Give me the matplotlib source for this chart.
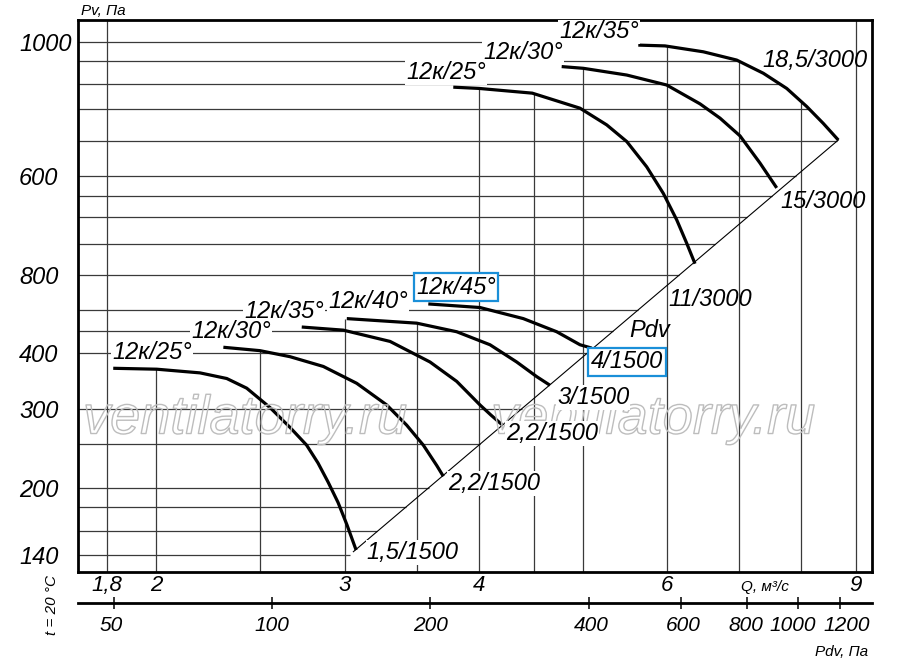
import matplotlib
matplotlib.use('Agg')
import matplotlib.pyplot as plt
import matplotlib.patheffects as pe
from matplotlib.patches import Rectangle
from matplotlib.transforms import IdentityTransform
from matplotlib.ticker import NullLocator
import numpy as np

plt.rcParams['font.family'] = ['Liberation Sans', 'DejaVu Sans']
plt.rcParams['font.style'] = 'italic'

# --- data: Q in m3/s, Pv in Pa (log-log grid) ---
# 1500 rpm curves
q_25_1500 = [1.823, 2.002, 2.197, 2.327, 2.429, 2.554, 2.666, 2.763, 2.831,
             2.893, 2.956, 3.013, 3.073]
pv_25_1500 = [286, 285, 281, 275, 265, 246, 228, 213, 199, 185, 171, 157, 142.5]
q_30_1500 = [2.310, 2.499, 2.666, 2.864, 3.077, 3.282, 3.426, 3.551, 3.655, 3.707]
pv_30_1500 = [310, 306, 299, 288, 270, 248.5, 230, 213, 197, 189]
q_35_1500 = [2.734, 2.990, 3.306, 3.602, 3.815, 4.011, 4.107, 4.203]
pv_35_1500 = [335, 331, 317, 293, 272, 248.5, 239, 230.6]
q_40_1500 = [3.012, 3.501, 3.815, 4.098, 4.340, 4.531, 4.662]
pv_40_1500 = [346, 340, 329, 313, 293, 277, 268]
q_45_1500 = [3.589, 4.011, 4.402, 4.730, 4.973, 5.100]
pv_45_1500 = [366, 361, 346, 329, 313, 309]
# 3000 rpm curves
q_25_3000 = [3.787, 4.003, 4.488, 4.973, 5.267, 5.499, 5.740, 5.949, 6.123,
             6.255, 6.368]
pv_25_3000 = [840, 836, 821, 775, 727, 682, 619, 559, 505, 462, 427]
q_30_3000 = [4.781, 5.009, 5.499, 5.992, 6.437, 6.720, 7.015, 7.323, 7.591]
pv_30_3000 = [909, 903, 880, 847, 788, 746, 697, 628, 571]
q_35_3000 = [5.637, 5.970, 6.483, 6.965, 7.376, 7.756, 8.097, 8.391, 8.666]
pv_35_3000 = [987, 984, 962, 932, 886, 836, 780, 731, 686]

# Pdv line (end points of the curves lie on it)
diag_q = [3.055, 8.666]
diag_pv = [141.6, 686]

# grid
grid_q = [1.8, 2, 2.5, 3, 3.5, 4, 4.5, 5, 6, 7, 8, 9]
grid_pv = [1000, 929, 849, 773, 684, 598, 553, 510, 460, 409, 358, 330,
           303, 245, 214, 181, 168, 153, 140]

# axis ticks as printed on the chart
q_ticks = [1.8, 2, 3, 4, 6, 9]
q_tick_labels = ['1,8', '2', '3', '4', '6', '9']
pv_ticks = [1000, 598, 409, 303, 245, 181, 140]
pv_tick_labels = ['1000', '600', '800', '400', '300', '200', '140']
pdv_ticks = [50, 100, 200, 400, 600, 800, 1000, 1200]
pdv_tick_labels = ['50', '100', '200', '400', '600', '800', '1000', '1200']
pdv_label_shift = [-2, 0, 0, 1.5, 1.5, -1, -4, 5]  # points, to keep labels apart

curves = [(q_25_1500, pv_25_1500), (q_30_1500, pv_30_1500),
          (q_35_1500, pv_35_1500), (q_40_1500, pv_40_1500),
          (q_45_1500, pv_45_1500), (q_25_3000, pv_25_3000),
          (q_30_3000, pv_30_3000), (q_35_3000, pv_35_3000)]

# curve labels: text, Q, Pv, box kind
curve_labels = [
    ('12к/25°', 1.982, 304, 'w'), ('12к/30°', 2.348, 329, 'w'),
    ('12к/35°', 2.632, 356, 'w'), ('12к/40°', 3.153, 370, 'w'),
    ('12к/45°', 3.809, 390, 'b'), ('4/1500', 5.502, 293, 'b'),
    ('3/1500', 5.115, 256, 'w'), ('2,2/1500', 4.683, 223, 'w'),
    ('2,2/1500', 4.133, 184, 'w'), ('1,5/1500', 3.472, 141, 'w'),
    ('12к/25°', 3.728, 887, 'w'), ('12к/30°', 4.400, 958, 'w'),
    ('12к/35°', 5.181, 1038, 'w'), ('18,5/3000', 8.242, 929, ''),
    ('15/3000', 8.386, 543, ''), ('11/3000', 6.576, 372, ''),
    ('Pdv', 5.781, 331, ''),
]

xlim = (1.690, 9.317)
ylim = (131.0, 1086.7)

fig = plt.figure(figsize=(9, 6.7), dpi=100)
ax = fig.add_axes([78 / 900, 1 - 572 / 670, 794 / 900, 552 / 670])
ax.set_xscale('log')
ax.set_yscale('log')
ax.set_xlim(*xlim)
ax.set_ylim(*ylim)


def top_of_grid(q):
    # vertical grid lines stop at the highest curve above them
    best = None
    for cq, cp in curves:
        if cq[0] * 0.99 <= q <= cq[-1]:
            v = np.exp(np.interp(np.log(q), np.log(cq), np.log(cp)))
            best = v if best is None else max(best, v)
    return ylim[1] if best is None else best


def right_of_grid(p):
    # horizontal grid lines stop at the Pdv line or the outer curve
    if p <= diag_pv[-1]:
        t = (np.log(p) - np.log(diag_pv[0])) / (np.log(diag_pv[1]) - np.log(diag_pv[0]))
        return np.exp(np.log(diag_q[0]) + t * (np.log(diag_q[1]) - np.log(diag_q[0])))
    cq, cp = q_35_3000, pv_35_3000
    if p >= cp[0]:
        return cq[0]
    return np.exp(np.interp(np.log(p), np.log(cp[::-1]), np.log(cq[::-1])))


gc = '#3a3a3a'
ax.vlines(grid_q, ylim[0], [top_of_grid(q) for q in grid_q], colors=gc, lw=0.9, zorder=1)
ax.hlines(grid_pv, xlim[0], [right_of_grid(p) for p in grid_pv], colors=gc, lw=0.9, zorder=1)

ax.plot(diag_q, diag_pv, color='black', lw=0.8, zorder=2)
for cq, cp in curves:
    ax.plot(cq, cp, color='black', lw=2.3, solid_capstyle='butt',
            solid_joinstyle='round', zorder=3)

label_texts = []
for txt, q, p, kind in curve_labels:
    t = ax.text(q, p, txt, ha='center', va='center', fontsize=17, zorder=5)
    label_texts.append((t, kind))

# watermark
for q in (2.420, 5.819):
    ax.text(q, 235, 'ventilatorry.ru', ha='center', va='center', fontsize=39,
            color=(1, 1, 1, 0), zorder=4,
            path_effects=[pe.withStroke(linewidth=1.0, foreground='#bdbdbd')])

for s in ax.spines.values():
    s.set_linewidth(2.0)
ax.xaxis.set_minor_locator(NullLocator())
ax.yaxis.set_minor_locator(NullLocator())
ax.set_xticks(q_ticks)
ax.set_xticklabels(q_tick_labels, fontsize=16)
ax.set_yticks(pv_ticks)
ax.set_yticklabels(pv_tick_labels, fontsize=17)
for lab in ax.get_yticklabels():
    lab.set_ha('left')
ax.tick_params(axis='x', length=0, pad=2)
ax.tick_params(axis='y', length=0, pad=42.5)

# Pdv scale under the chart
axp = fig.add_axes([78 / 900, 1 - 603 / 670, 794 / 900, 0.0001])
axp.set_xscale('log')
axp.set_xlim(42.8, 1381)
axp.xaxis.set_minor_locator(NullLocator())
axp.set_xticks(pdv_ticks)
axp.set_xticklabels([])
axp.set_yticks([])
axp.patch.set_visible(False)
for k in ('top', 'left', 'right'):
    axp.spines[k].set_visible(False)
axp.spines['bottom'].set_linewidth(2.0)
axp.tick_params(axis='x', direction='inout', length=9, width=1.1)
for v, lbl, dx in zip(pdv_ticks, pdv_tick_labels, pdv_label_shift):
    axp.annotate(lbl, xy=(v, 0), xycoords=('data', 'axes fraction'),
                 xytext=(dx, -16), textcoords='offset points',
                 ha='center', va='center', fontsize=15)

fig.text(103 / 900, 1 - 11 / 670, 'Pv, Па', ha='center', va='center', fontsize=11)
fig.text(765 / 900, 1 - 587 / 670, 'Q, м³/с', ha='center', va='center', fontsize=11)
fig.text(842 / 900, 1 - 652 / 670, 'Pdv, Па', ha='center', va='center', fontsize=11)
fig.text(52 / 900, 1 - 605 / 670, 't = 20 °C', ha='center', va='center',
         fontsize=11, rotation=90)

# white masks under the labels (grid lines stop at the text), blue frames for two
renderer = fig.canvas.get_renderer()
for t, kind in label_texts:
    if not kind:
        continue
    bb = t.get_window_extent(renderer)
    pad = 2.5 if kind == 'b' else 1.0
    ax.add_patch(Rectangle((bb.x0 - pad, bb.y0 - pad), bb.width + 2 * pad,
                           bb.height + 2 * pad, transform=IdentityTransform(),
                           fc='white', ec='#1a8fd8' if kind == 'b' else 'none',
                           lw=1.6, zorder=4.5))

fig.savefig('out.png', dpi=100)
